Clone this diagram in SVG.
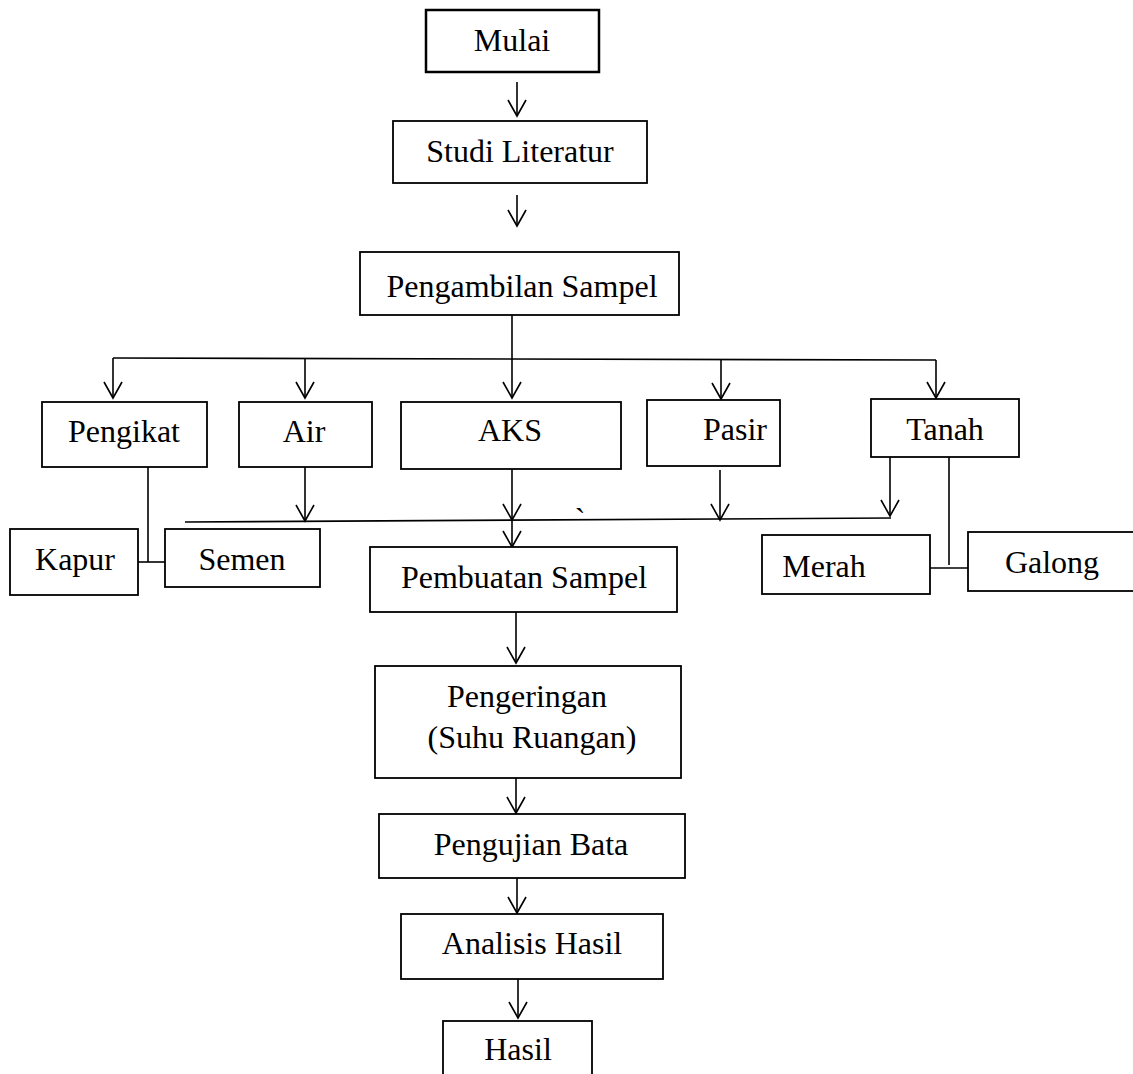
<svg xmlns="http://www.w3.org/2000/svg" width="1133" height="1074" viewBox="0 0 1133 1074">
<style>
.box{fill:#fff;stroke:#000;stroke-width:1.8}
.t{font-family:"Liberation Serif","Times New Roman",serif;font-size:32px;fill:#000;text-anchor:middle}
.c{fill:none;stroke:#000;stroke-width:1.6}
.a{marker-end:url(#ah)}
</style>
<defs>
<marker id="ah" markerUnits="userSpaceOnUse" viewBox="-18 -11 20 22" markerWidth="20" markerHeight="22" refX="0" refY="0" orient="auto" overflow="visible">
<path d="M-16,-9 L0,0 L-16,9" fill="none" stroke="#000" stroke-width="1.6"/>
</marker>
</defs>
<rect width="1133" height="1074" fill="#fff"/>
<g id="connectors">
<line class="c a" x1="517" y1="82" x2="517" y2="116"/>
<line class="c a" x1="517" y1="195" x2="517" y2="226"/>
<line class="c a" x1="512" y1="315" x2="512" y2="398"/>
<line class="c" x1="113" y1="358" x2="936" y2="360"/>
<line class="c a" x1="113" y1="358" x2="113" y2="398"/>
<line class="c a" x1="305" y1="358" x2="305" y2="398"/>
<line class="c a" x1="721" y1="360" x2="721" y2="399"/>
<line class="c a" x1="936" y1="360" x2="936" y2="398"/>
<line class="c" x1="148" y1="467" x2="148" y2="562"/>
<line class="c" x1="138" y1="562" x2="165" y2="562"/>
<line class="c a" x1="305" y1="467" x2="305" y2="521"/>
<line class="c" x1="185" y1="522" x2="891" y2="518"/>
<line class="c a" x1="512" y1="469" x2="512" y2="520"/>
<line class="c a" x1="512" y1="520" x2="512" y2="547"/>
<line class="c a" x1="720" y1="470" x2="720" y2="520"/>
<line class="c a" x1="890" y1="457" x2="890" y2="516"/>
<line class="c" x1="949" y1="457" x2="949" y2="565"/>
<line class="c" x1="930" y1="568" x2="968" y2="568"/>
<line class="c a" x1="516" y1="612" x2="516" y2="663"/>
<line class="c a" x1="516" y1="778" x2="516" y2="813"/>
<line class="c a" x1="517" y1="878" x2="517" y2="913"/>
<line class="c a" x1="518" y1="978" x2="518" y2="1018"/>
</g>
<g id="mulai"><rect class="box" x="426" y="10" width="173" height="62" style="stroke-width:2.5"/><text class="t" x="512" y="51">Mulai</text></g>
<g id="studi"><rect class="box" x="393" y="121" width="254" height="62"/><text class="t" x="520" y="162">Studi Literatur</text></g>
<g id="pengambilan"><rect class="box" x="360" y="252" width="319" height="63"/><text class="t" x="522" y="297">Pengambilan Sampel</text></g>
<g id="pengikat"><rect class="box" x="42" y="402" width="165" height="65"/><text class="t" x="124" y="442">Pengikat</text></g>
<g id="air"><rect class="box" x="239" y="402" width="133" height="65"/><text class="t" x="304" y="442">Air</text></g>
<g id="aks"><rect class="box" x="401" y="402" width="220" height="67"/><text class="t" x="510" y="441">AKS</text></g>
<g id="pasir"><rect class="box" x="647" y="400" width="133" height="66"/><text class="t" x="735" y="440">Pasir</text></g>
<g id="tanah"><rect class="box" x="871" y="399" width="148" height="58"/><text class="t" x="945" y="440">Tanah</text></g>
<g id="kapur"><rect class="box" x="10" y="529" width="128" height="66"/><text class="t" x="75" y="570">Kapur</text></g>
<g id="semen"><rect class="box" x="165" y="529" width="155" height="58"/><text class="t" x="242" y="570">Semen</text></g>
<g id="pembuatan"><rect class="box" x="370" y="547" width="307" height="65"/><text class="t" x="524" y="588">Pembuatan Sampel</text></g>
<g id="merah"><rect class="box" x="762" y="535" width="168" height="59"/><text class="t" x="824" y="577">Merah</text></g>
<g id="galong"><rect class="box" x="968" y="532" width="175" height="59"/><text class="t" x="1052" y="573">Galong</text></g>
<g id="pengeringan"><rect class="box" x="375" y="666" width="306" height="112"/><text class="t" x="527" y="707">Pengeringan</text><text class="t" x="532" y="748">(Suhu Ruangan)</text></g>
<g id="pengujian"><rect class="box" x="379" y="814" width="306" height="64"/><text class="t" x="531" y="855">Pengujian Bata</text></g>
<g id="analisis"><rect class="box" x="401" y="914" width="262" height="65"/><text class="t" x="532" y="954">Analisis Hasil</text></g>
<g id="hasil"><rect class="box" x="443" y="1021" width="149" height="70"/><text class="t" x="518" y="1060">Hasil</text></g>
<text class="t" x="580" y="530">`</text>
</svg>
